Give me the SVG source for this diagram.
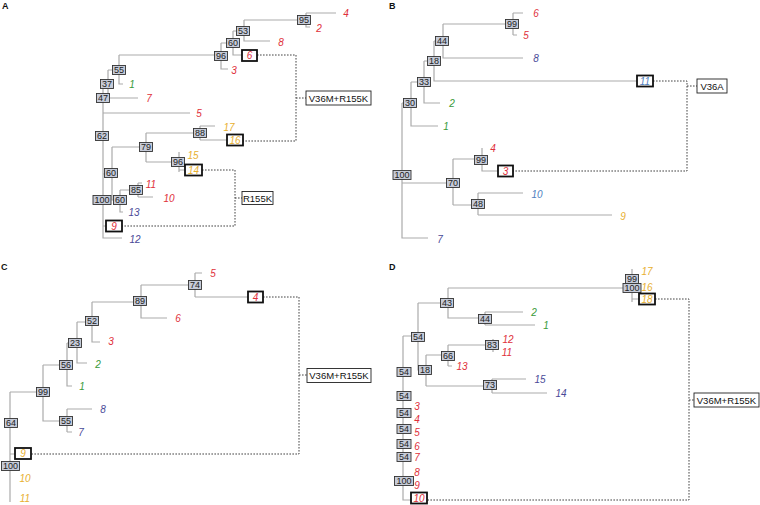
<svg xmlns="http://www.w3.org/2000/svg" width="760" height="505" viewBox="0 0 760 505">
<style>
text{font-family:"Liberation Sans",Arial,sans-serif}
.bs rect{fill:#c6cbd8;stroke:#333;stroke-width:0.9}
.bs text{font-size:9px;fill:#222;text-anchor:middle}
.lf text{font-size:10px;font-style:italic;text-anchor:middle}
.hl rect{fill:#fff;stroke:#111;stroke-width:1.8}
.mu rect{fill:#fff;stroke:#222;stroke-width:0.9}
.mu text{font-size:9.5px;fill:#111;text-anchor:middle}
.pl{font-size:9px;font-weight:bold;fill:#111}
.tree{fill:none;stroke:#ababab;stroke-width:1.2}
.dash{fill:none;stroke:#444;stroke-width:1;stroke-dasharray:1.6 1.4}
.r{fill:#e0303a}.g{fill:#3a9b3a}.i{fill:#4a4a98}.y{fill:#e8b030}.b{fill:#4f7fbf}
</style>
<text class="pl" x="2" y="9">A</text>
<text class="pl" x="389" y="9">B</text>
<text class="pl" x="1" y="270">C</text>
<text class="pl" x="389" y="270">D</text>
<g id="connectors">
<path class="tree" d="M306,13 H336 M306,13 V27 H310 M244,20 H306 M244,20 V41 H270 M233,31 H244 M233,31 V55 H242 M221,43 H233 M221,43 V69 H228 M119,55 H221 M119,55 V84 H123 M108,70 H119 M108,70 V98 H138 M103,84 H108 M103,84 V238 H122 M103,113 H190 M103,174 H112 M112,147 V200 H120 M112,147 H146 M146,133 V162 M146,133 H200 M200,126 V140 M200,126 H215 M200,140 H227 M146,162 H179 M179,152 V172 M179,170 H185 M120,190 V212 H123 M120,190 H138 M138,183 V197 M138,183 H142 M138,197 H153 M103,226 H106"/>
<path class="tree" d="M513,13 V35 M513,13 H523 M513,35 H517 M443,24 H513 M443,24 V58 H523 M434,41 H443 M434,41 V81 H637 M424,61 H434 M424,61 V103 H440 M411,82 H424 M411,82 V126 H438 M402,103 H411 M402,103 V238 H428 M402,183 H453 M453,159 V205 M453,159 H482 M482,148 V171 H498 M453,205 H478 M478,193 V215 M478,193 H523 M478,215 H612"/>
<path class="tree" d="M195,273 V297 M195,273 H202 M195,297 H248 M141,285 H195 M141,285 V318 H167 M92,302 H141 M92,302 V342 H100 M77,322 H92 M77,322 V363 H87 M67,343 H77 M67,343 V386 H72 M43,365 H67 M43,365 V421 H67 M67,409 V432 M67,409 H92 M67,432 H72 M10,392 H43 M10,392 V502 M10,454 H15"/>
<path class="tree" d="M448,288 H632 M632,269 V302 M632,299 H639 M448,288 V318 H485 M485,312 V325 M485,312 H523 M485,325 H535 M403,336 H418 M418,303 H448 M418,303 V370 H426 M426,355 V386 M426,355 H448 M448,345 V366 M448,345 H493 M493,339 V352 M448,366 H452 M426,386 H492 M492,379 V393 M492,379 H526 M492,393 H547 M403,336 V500 H411"/>
<path class="dash" d="M257,55 H296 V141 H243 M296,98 H306"/>
<path class="dash" d="M202,170 H235 V226 H122 M235,198 H242"/>
<path class="dash" d="M653,81 H687 V171 H513 M687,86 H697"/>
<path class="dash" d="M263,297 H299 V454 H31 M299,375 H307"/>
<path class="dash" d="M655,299 H689 V500 H427 M689,400 H694"/>
</g>
<!-- Panel A bootstrap nodes -->
<g id="a95" class="bs"><rect x="297.5" y="15.5" width="13" height="9"/><text x="304" y="23.2">95</text></g>
<g id="a53" class="bs"><rect x="236.5" y="26.5" width="13" height="9"/><text x="243" y="34.2">53</text></g>
<g id="a60" class="bs"><rect x="226.5" y="38.5" width="13" height="9"/><text x="233" y="46.2">60</text></g>
<g id="a96" class="bs"><rect x="214.5" y="51.5" width="13" height="9"/><text x="221" y="59.2">96</text></g>
<g id="a55" class="bs"><rect x="112.5" y="65.5" width="13" height="9"/><text x="119" y="73.2">55</text></g>
<g id="a37" class="bs"><rect x="100.5" y="79.5" width="13" height="9"/><text x="107" y="87.2">37</text></g>
<g id="a47" class="bs"><rect x="96.5" y="93.5" width="13" height="9"/><text x="103" y="101.2">47</text></g>
<g id="a62" class="bs"><rect x="95.5" y="131.5" width="13" height="9"/><text x="102" y="139.2">62</text></g>
<g id="a88" class="bs"><rect x="193.5" y="128.5" width="13" height="9"/><text x="200" y="136.2">88</text></g>
<g id="a79" class="bs"><rect x="139.5" y="142.5" width="13" height="9"/><text x="146" y="150.2">79</text></g>
<g id="a96b" class="bs"><rect x="171.5" y="157.5" width="13" height="9"/><text x="178" y="165.2">96</text></g>
<g id="a60l" class="bs"><rect x="104.5" y="168.5" width="13" height="9"/><text x="111" y="176.2">60</text></g>
<g id="a85" class="bs"><rect x="129.5" y="185.5" width="13" height="9"/><text x="136" y="193.2">85</text></g>
<g id="a100" class="bs"><rect x="93" y="195.5" width="18" height="9"/><text x="102" y="203.2">100</text></g>
<g id="a60r" class="bs"><rect x="113.5" y="195.5" width="13" height="9"/><text x="120" y="203.2">60</text></g>
<!-- Panel A leaves -->
<g id="aL4" class="lf"><text class="r" x="346" y="17">4</text></g>
<g id="aL2" class="lf"><text class="r" x="319" y="32">2</text></g>
<g id="aL8" class="lf"><text class="r" x="281" y="46">8</text></g>
<g id="aL6" class="lf hl"><rect x="242" y="50" width="15" height="11"/><text class="r" x="249.5" y="59">6</text></g>
<g id="aL3" class="lf"><text class="r" x="234" y="74">3</text></g>
<g id="aL1" class="lf"><text class="g" x="132" y="88">1</text></g>
<g id="aL7" class="lf"><text class="r" x="149" y="102">7</text></g>
<g id="aL5" class="lf"><text class="r" x="199" y="117">5</text></g>
<g id="aL17" class="lf"><text class="y" x="229" y="131">17</text></g>
<g id="aL16" class="lf hl"><rect x="227" y="134.5" width="16" height="11"/><text class="y" x="235" y="143.5">16</text></g>
<g id="aL15" class="lf"><text class="y" x="193" y="159">15</text></g>
<g id="aL14" class="lf hl"><rect x="185" y="164.5" width="17" height="11"/><text class="y" x="193.5" y="173.5">14</text></g>
<g id="aL11" class="lf"><text class="r" x="151" y="188">11</text></g>
<g id="aL10" class="lf"><text class="r" x="169" y="202">10</text></g>
<g id="aL13" class="lf"><text class="i" x="134" y="216">13</text></g>
<g id="aL9" class="lf hl"><rect x="106" y="220.5" width="16" height="11"/><text class="r" x="114" y="229.5">9</text></g>
<g id="aL12" class="lf"><text class="i" x="135" y="243">12</text></g>
<g id="aM1" class="mu"><rect x="306" y="91" width="65" height="14"/><text x="338.5" y="101.5">V36M+R155K</text></g>
<g id="aM2" class="mu"><rect x="242" y="191.5" width="31" height="13"/><text x="257.5" y="201.5">R155K</text></g>
<!-- Panel B -->
<g id="b99" class="bs"><rect x="505.5" y="19.5" width="13" height="9"/><text x="512" y="27.2">99</text></g>
<g id="b44" class="bs"><rect x="435.5" y="36.5" width="13" height="9"/><text x="442" y="44.2">44</text></g>
<g id="b18" class="bs"><rect x="427.5" y="56.5" width="13" height="9"/><text x="434" y="64.2">18</text></g>
<g id="b33" class="bs"><rect x="417.5" y="77.5" width="13" height="9"/><text x="424" y="85.2">33</text></g>
<g id="b30" class="bs"><rect x="403.5" y="98.5" width="13" height="9"/><text x="410" y="106.2">30</text></g>
<g id="b100" class="bs"><rect x="393" y="170.5" width="18" height="9"/><text x="402" y="178.2">100</text></g>
<g id="b70" class="bs"><rect x="446.5" y="178.5" width="13" height="9"/><text x="453" y="186.2">70</text></g>
<g id="b99b" class="bs"><rect x="474.5" y="155.5" width="13" height="9"/><text x="481" y="163.2">99</text></g>
<g id="b48" class="bs"><rect x="471.5" y="199.5" width="13" height="9"/><text x="478" y="207.2">48</text></g>
<g id="bL6" class="lf"><text class="r" x="536" y="17">6</text></g>
<g id="bL5" class="lf"><text class="r" x="526" y="39">5</text></g>
<g id="bL8" class="lf"><text class="i" x="536" y="62">8</text></g>
<g id="bL11" class="lf hl"><rect x="637" y="75.5" width="16" height="11"/><text class="b" x="645" y="84.5">11</text></g>
<g id="bL2" class="lf"><text class="g" x="452" y="107">2</text></g>
<g id="bL1" class="lf"><text class="g" x="446" y="130">1</text></g>
<g id="bL4" class="lf"><text class="r" x="493" y="152">4</text></g>
<g id="bL3" class="lf hl"><rect x="498" y="165.5" width="15" height="11"/><text class="r" x="505.5" y="174.5">3</text></g>
<g id="bL10" class="lf"><text class="b" x="537" y="198">10</text></g>
<g id="bL9" class="lf"><text class="y" x="623" y="220">9</text></g>
<g id="bL7" class="lf"><text class="i" x="440" y="243">7</text></g>
<g id="bM1" class="mu"><rect x="697" y="79" width="30" height="14"/><text x="712" y="89.5">V36A</text></g>
<!-- Panel C -->
<g id="c74" class="bs"><rect x="188.5" y="280.5" width="13" height="9"/><text x="195" y="288.2">74</text></g>
<g id="c89" class="bs"><rect x="133.5" y="296.5" width="13" height="9"/><text x="140" y="304.2">89</text></g>
<g id="c52" class="bs"><rect x="85.5" y="316.5" width="13" height="9"/><text x="92" y="324.2">52</text></g>
<g id="c23" class="bs"><rect x="68.5" y="338.5" width="13" height="9"/><text x="75" y="346.2">23</text></g>
<g id="c56" class="bs"><rect x="59.5" y="360.5" width="13" height="9"/><text x="66" y="368.2">56</text></g>
<g id="c99" class="bs"><rect x="36.5" y="387.5" width="13" height="9"/><text x="43" y="395.2">99</text></g>
<g id="c55" class="bs"><rect x="59.5" y="416.5" width="13" height="9"/><text x="66" y="424.2">55</text></g>
<g id="c64" class="bs"><rect x="4.5" y="418.5" width="13" height="9"/><text x="11" y="426.2">64</text></g>
<g id="c100" class="bs"><rect x="1.5" y="461.5" width="18" height="9"/><text x="10.5" y="469.2">100</text></g>
<g id="cL5" class="lf"><text class="r" x="213" y="277">5</text></g>
<g id="cL4" class="lf hl"><rect x="248" y="291.5" width="15" height="11"/><text class="r" x="255.5" y="300.5">4</text></g>
<g id="cL6" class="lf"><text class="r" x="178" y="322">6</text></g>
<g id="cL3" class="lf"><text class="r" x="111" y="345">3</text></g>
<g id="cL2" class="lf"><text class="g" x="98" y="368">2</text></g>
<g id="cL1" class="lf"><text class="g" x="82" y="390">1</text></g>
<g id="cL8" class="lf"><text class="i" x="103" y="413">8</text></g>
<g id="cL7" class="lf"><text class="i" x="81" y="436">7</text></g>
<g id="cL9" class="lf hl"><rect x="15" y="448" width="16" height="11"/><text class="y" x="23" y="457">9</text></g>
<g id="cL10" class="lf"><text class="y" x="25" y="482">10</text></g>
<g id="cL11" class="lf"><text class="y" x="25" y="502">11</text></g>
<g id="cM1" class="mu"><rect x="307" y="368.5" width="64" height="14"/><text x="339" y="379">V36M+R155K</text></g>
<!-- Panel D -->
<g id="d99" class="bs"><rect x="625.5" y="274.5" width="13" height="9"/><text x="632" y="282.2">99</text></g>
<g id="d100" class="bs"><rect x="623" y="283.5" width="18" height="9"/><text x="632" y="291.2">100</text></g>
<g id="d43" class="bs"><rect x="440.5" y="298.5" width="13" height="9"/><text x="447" y="306.2">43</text></g>
<g id="d44" class="bs"><rect x="478.5" y="314.5" width="13" height="9"/><text x="485" y="322.2">44</text></g>
<g id="d54a" class="bs"><rect x="411.5" y="332.5" width="13" height="9"/><text x="418" y="340.2">54</text></g>
<g id="d83" class="bs"><rect x="485.5" y="340.5" width="13" height="9"/><text x="492" y="348.2">83</text></g>
<g id="d66" class="bs"><rect x="441.5" y="351.5" width="13" height="9"/><text x="448" y="359.2">66</text></g>
<g id="d18" class="bs"><rect x="418.5" y="365.5" width="13" height="9"/><text x="425" y="373.2">18</text></g>
<g id="d73" class="bs"><rect x="483.5" y="380.5" width="13" height="9"/><text x="490" y="388.2">73</text></g>
<g id="d54b" class="bs"><rect x="397" y="367.5" width="14" height="9"/><text x="404" y="375.2">54</text></g>
<g id="d54c" class="bs"><rect x="397" y="391.5" width="14" height="9"/><text x="404" y="399.2">54</text></g>
<g id="d54d" class="bs"><rect x="397" y="408.5" width="14" height="9"/><text x="404" y="416.2">54</text></g>
<g id="d54e" class="bs"><rect x="397" y="424.5" width="14" height="9"/><text x="404" y="432.2">54</text></g>
<g id="d54f" class="bs"><rect x="397" y="439.5" width="14" height="9"/><text x="404" y="447.2">54</text></g>
<g id="d54g" class="bs"><rect x="397" y="452.5" width="14" height="9"/><text x="404" y="460.2">54</text></g>
<g id="d100b" class="bs"><rect x="394.5" y="476.5" width="19" height="9"/><text x="404" y="484.2">100</text></g>
<g id="dL17" class="lf"><text class="y" x="647" y="275">17</text></g>
<g id="dL16" class="lf"><text class="y" x="647" y="291">16</text></g>
<g id="dL18" class="lf hl"><rect x="639" y="293.5" width="16" height="11"/><text class="y" x="647" y="302.5">18</text></g>
<g id="dL2" class="lf"><text class="g" x="534" y="316">2</text></g>
<g id="dL1" class="lf"><text class="g" x="546" y="329">1</text></g>
<g id="dL12" class="lf"><text class="r" x="508" y="343">12</text></g>
<g id="dL11" class="lf"><text class="r" x="507" y="356">11</text></g>
<g id="dL13" class="lf"><text class="r" x="462" y="370">13</text></g>
<g id="dL15" class="lf"><text class="i" x="540" y="383">15</text></g>
<g id="dL14" class="lf"><text class="i" x="561" y="397">14</text></g>
<g id="dL3" class="lf"><text class="r" x="417" y="410">3</text></g>
<g id="dL4" class="lf"><text class="r" x="417" y="423">4</text></g>
<g id="dL5" class="lf"><text class="r" x="417" y="436">5</text></g>
<g id="dL6" class="lf"><text class="r" x="417" y="450">6</text></g>
<g id="dL7" class="lf"><text class="r" x="417" y="461">7</text></g>
<g id="dL8" class="lf"><text class="r" x="417" y="476">8</text></g>
<g id="dL9" class="lf"><text class="r" x="417" y="489">9</text></g>
<g id="dL10" class="lf hl"><rect x="411" y="492.5" width="16" height="11"/><text class="r" x="419" y="501.5">10</text></g>
<g id="dM1" class="mu"><rect x="694" y="393" width="65" height="14"/><text x="726.5" y="403.5">V36M+R155K</text></g>
</svg>
